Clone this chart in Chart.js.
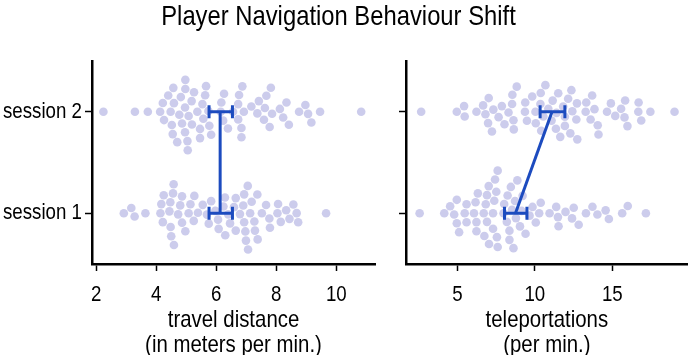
<!DOCTYPE html>
<html>
<head>
<meta charset="utf-8">
<script src="https://cdn.jsdelivr.net/npm/chart.js@4.4.1/dist/chart.umd.min.js"></script>
<style>
    html, body { margin: 0; padding: 0; background: #fff; }
    #wrap { position: relative; width: 692px; height: 355px; overflow: hidden; }
    #wrap canvas { position: absolute; left: 0; top: 0; }
    #title {
        position: absolute; left: 0; top: 1px; width: 677px;
        text-align: center; font: 28px 'Liberation Sans', Arial, sans-serif;
        line-height: 30px; color: #000;
        transform: scaleX(0.85); transform-origin: 50% 50%;
    }
</style>
</head>
<body>
<div id="wrap">
    <canvas id="travelChart" width="692" height="355"></canvas>
    <canvas id="teleChart" width="692" height="355"></canvas>
    <div id="title">Player Navigation Behaviour Shift</div>
</div>
<script>
    // categories (y positions 1 and 2)
    const sessions = ['session 1', 'session 2'];

    // travel distance (m / min), one value per player
    const travelS1 = [2.92, 3.17, 3.28, 3.64, 4.14, 4.17, 4.25, 4.22, 4.47, 4.50, 4.59, 4.44, 4.48, 4.56, 4.58, 4.73, 4.80,
        4.86, 4.86, 4.97, 5.08, 5.14, 5.27, 5.25, 5.39, 5.55, 5.69, 5.75, 5.83, 6.06, 6.08, 5.97, 6.46, 6.40, 6.29, 6.65,
        6.93, 6.99, 7.06, 6.79, 6.90, 6.59, 6.30, 6.65, 6.93, 6.97, 7.05, 7.18, 7.13, 7.27, 7.37, 7.29, 7.38, 7.52, 7.66,
        7.77, 7.79, 8.04, 8.06, 8.15, 8.33, 8.44, 8.57, 8.68, 8.73, 9.66, 6.24];
    const travelS2 = [2.24, 3.29, 3.72, 4.13, 4.26, 4.22, 4.48, 4.55, 4.52, 4.40, 4.59, 4.57, 4.70, 4.82, 4.86, 4.96, 4.97,
        5.08, 4.77, 4.96, 4.97, 5.04, 5.05, 5.18, 5.26, 5.19, 5.37, 5.46, 5.46, 5.63, 5.83, 5.54, 5.66, 5.57, 5.77, 5.74,
        6.15, 6.26, 6.17, 6.23, 6.39, 6.56, 6.73, 6.84, 6.92, 6.84, 6.73, 6.76, 6.87, 7.17, 7.37, 7.42, 7.59, 7.82, 7.62,
        7.78, 7.67, 7.86, 8.12, 8.23, 8.34, 8.42, 8.76, 8.97, 9.06, 9.17, 9.46, 10.83];

    // teleportations (per min)
    const teleS1 = [2.56, 4.15, 4.53, 4.79, 4.96, 4.96, 5.11, 5.47, 5.59, 5.59, 6.23, 6.07, 6.23, 6.32, 6.17, 6.70, 6.74,
        6.91, 7.04, 6.83, 6.91, 7.02, 7.30, 7.38, 7.51, 7.60, 7.55, 7.43, 7.60, 7.30, 7.98, 8.02, 8.19, 8.36, 8.53, 8.24,
        8.36, 8.45, 8.62, 8.72, 8.78, 8.87, 9.15, 9.21, 9.04, 9.85, 10.06, 10.28, 10.38, 10.95, 11.38, 11.49, 11.53, 11.98,
        12.40, 12.51, 12.83, 13.30, 13.72, 14.04, 14.57, 14.78, 15.64, 16.00, 17.17, 9.40, 9.66];
    const teleS2 = [2.66, 4.96, 5.43, 5.47, 6.23, 6.66, 6.81, 6.98, 7.32, 7.02, 7.23, 7.66, 7.87, 8.04, 8.30, 8.55, 8.64,
        8.53, 8.62, 8.83, 9.36, 9.38, 9.49, 9.83, 10.04, 10.06, 10.38, 10.36, 10.41, 10.55, 11.36, 12.29, 11.94, 11.83,
        11.08, 10.87, 11.51, 11.15, 11.94, 12.15, 12.42, 12.36, 12.68, 12.72, 12.74, 13.28, 13.60, 13.32, 13.70, 13.85,
        14.11, 14.06, 14.66, 14.91, 15.19, 15.57, 15.79, 15.98, 15.83, 16.68, 16.70, 16.87, 17.46, 19.02, 11.40, 10.68, 11.64];

    // mean and interval per session [session 1, session 2]
    const travelMean = [6.13, 6.13];
    const travelLo = [5.76, 5.76];
    const travelHi = [6.54, 6.54];
    const teleMean = [8.75, 11.11];
    const teleLo = [8.04, 10.34];
    const teleHi = [9.49, 11.94];

    // tick labels
    const travelTicks = [2, 4, 6, 8, 10];
    const teleTicks = [5, 10, 15];
    const travelTitle = ['travel distance', '(in meters per min.)'];
    const teleTitle = ['teleportations', '(per min.)'];

    const FONT = "'Liberation Sans', Arial, sans-serif";
    const NARROW = 0.85;
    const DOT = 'rgba(110, 110, 200, 0.35)';
    const BAR = '#1c4bbf';
    const SPACING = 9.2;

    // beeswarm placement (ascending order, closest free spot to the centre line)
    function swarm(pxs, d) {
        const order = pxs.map((p, i) => i).sort((a, b) => pxs[a] - pxs[b]);
        const placed = [];
        const out = new Array(pxs.length).fill(0);
        order.forEach(i => {
            const xi = pxs[i] / d;
            const near = placed.filter(p => xi - p.x < 1);
            let y = 0;
            if (near.length) {
                near.sort((a, b) => Math.abs(a.y) - Math.abs(b.y));
                const offs = near.map(p => Math.sqrt(Math.max(0, 1 - (xi - p.x) ** 2)));
                const cands = [0]
                    .concat(near.map((p, k) => p.y + offs[k]))
                    .concat(near.map((p, k) => p.y - offs[k]));
                let best = Infinity;
                cands.forEach(c => {
                    const bad = near.some(p => (xi - p.x) ** 2 + (c - p.y) ** 2 < 0.999);
                    if (!bad && Math.abs(c) < Math.abs(best)) best = c;
                });
                y = best;
            }
            placed.push({ x: xi, y: y });
            out[i] = y * d;
        });
        return out;
    }

    // the reference uses a condensed sans face; squeeze canvas text horizontally
    const narrowText = {
        id: 'narrowText',
        beforeInit(chart) {
            const ctx = chart.ctx;
            const orig = ctx.fillText.bind(ctx);
            ctx.fillText = function(text, x, y) {
                ctx.save();
                ctx.translate(x, y);
                ctx.scale(NARROW, 1);
                orig(text, 0, 0);
                ctx.restore();
            };
        }
    };

    const errorBars = {
        id: 'errorBars',
        afterDatasetsDraw(chart, args, opts) {
            const { ctx, scales: { x, y } } = chart;
            ctx.save();
            ctx.strokeStyle = BAR;
            ctx.lineWidth = 3;
            ctx.lineCap = 'butt';
            // line joining the means
            ctx.beginPath();
            opts.mean.forEach((m, i) => {
                const px = x.getPixelForValue(m), py = y.getPixelForValue(i + 1);
                if (i === 0) ctx.moveTo(px, py); else ctx.lineTo(px, py);
            });
            ctx.stroke();
            opts.mean.forEach((m, i) => {
                const py = y.getPixelForValue(i + 1);
                const lo = x.getPixelForValue(opts.lo[i]);
                const hi = x.getPixelForValue(opts.hi[i]);
                ctx.beginPath();
                ctx.moveTo(lo, py); ctx.lineTo(hi, py);
                ctx.moveTo(lo, py - 6.5); ctx.lineTo(lo, py + 6.5);
                ctx.moveTo(hi, py - 6.5); ctx.lineTo(hi, py + 6.5);
                ctx.stroke();
            });
            ctx.restore();
        }
    };

    function makePanel(id, s1, s2, box, ticks, title, summary, showLabels) {
        const ds = (vals, g) => ({
            data: vals.map(v => ({ x: v, y: g })),
            backgroundColor: DOT,
            borderWidth: 0,
            pointRadius: 4.3,
            pointHoverRadius: 4.3
        });
        const chart = new Chart(document.getElementById(id), {
            type: 'scatter',
            data: { datasets: [ds(s1, 1), ds(s2, 2)] },
            plugins: [narrowText, errorBars],
            options: {
                responsive: false,
                animation: false,
                events: [],
                layout: { padding: { left: 0, top: 61, right: box.right, bottom: 0 } },
                plugins: {
                    legend: { display: false },
                    tooltip: { enabled: false },
                    errorBars: summary
                },
                scales: {
                    x: {
                        type: 'linear', min: box.xmin, max: box.xmax,
                        afterBuildTicks: s => { s.ticks = ticks.map(v => ({ value: v })); },
                        afterFit: s => { s.height = 91; },
                        border: { display: true, color: '#000', width: 2.5 },
                        grid: { drawOnChartArea: false, drawTicks: true, tickLength: 7, tickWidth: 1.5, tickColor: '#000' },
                        ticks: { color: '#000', padding: 11, maxRotation: 0, font: { family: FONT, size: 22 } },
                        title: {
                            display: true, text: title, color: '#000',
                            padding: { top: 0, bottom: -2.5 },
                            font: { family: FONT, size: 24, lineHeight: '25px' }
                        }
                    },
                    y: {
                        type: 'linear', min: 0.5, max: 2.5,
                        afterBuildTicks: s => { s.ticks = [1, 2].map(v => ({ value: v })); },
                        afterFit: s => { s.width = box.left; },
                        border: { display: true, color: '#000', width: 2.5 },
                        grid: { drawOnChartArea: false, drawTicks: true, tickLength: 7, tickWidth: 1.5, tickColor: '#000' },
                        ticks: {
                            color: '#000', padding: 3, font: { family: FONT, size: 22 },
                            callback: v => showLabels ? sessions[v - 1] : ''
                        }
                    }
                }
            }
        });

        // spread the points into a swarm in pixel space, then back to data units
        const xs = chart.scales.x, ys = chart.scales.y;
        const pxPerY = ys.getPixelForValue(1) - ys.getPixelForValue(2);
        [s1, s2].forEach((vals, k) => {
            const offs = swarm(vals.map(v => xs.getPixelForValue(v)), SPACING);
            chart.data.datasets[k].data = vals.map((v, i) => ({ x: v, y: k + 1 + offs[i] / pxPerY }));
        });
        chart.update('none');
        return chart;
    }

    makePanel('travelChart', travelS1, travelS2,
        { left: 92, right: 317, xmin: 1.86, xmax: 11.29 }, travelTicks, travelTitle,
        { mean: travelMean, lo: travelLo, hi: travelHi }, true);
    makePanel('teleChart', teleS1, teleS2,
        { left: 406, right: 1, xmin: 1.68, xmax: 19.87 }, teleTicks, teleTitle,
        { mean: teleMean, lo: teleLo, hi: teleHi }, false);
</script>
</body>
</html>
